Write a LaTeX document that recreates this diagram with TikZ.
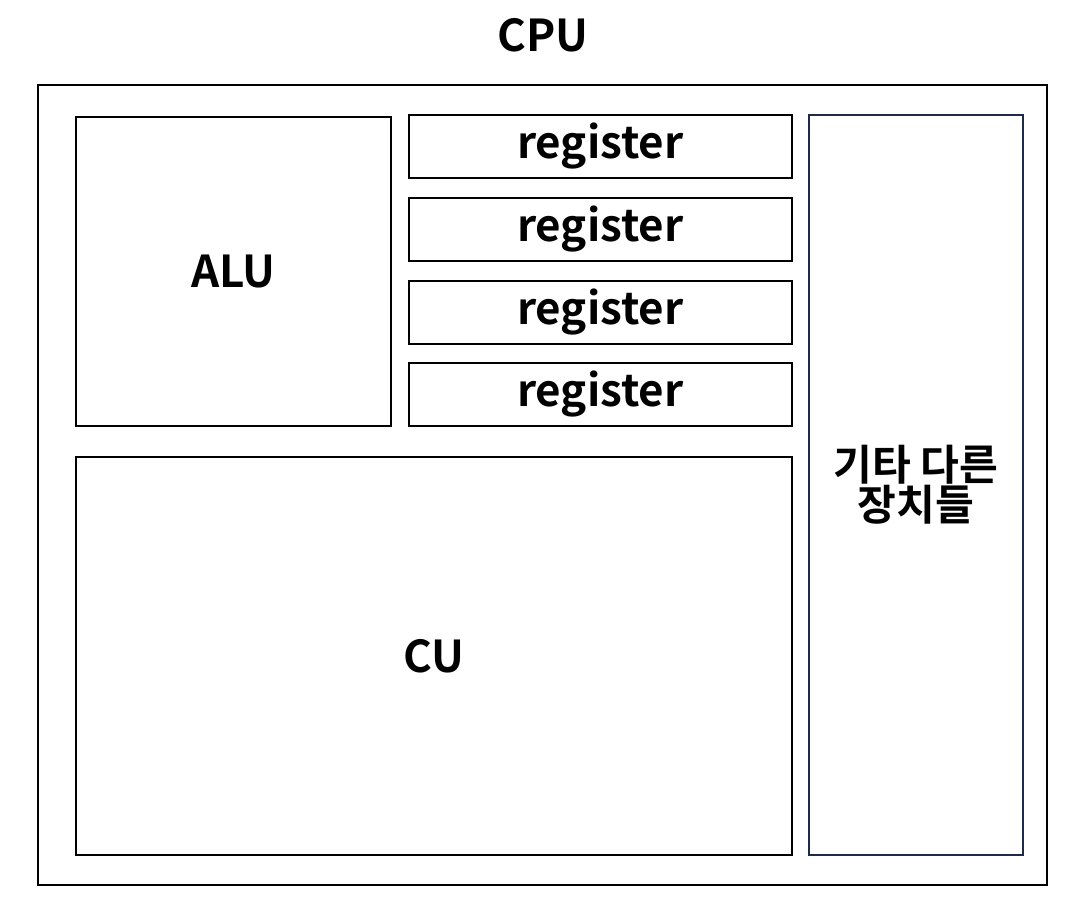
\documentclass[tikz,border=0pt]{standalone}
\usepackage{fontspec}
\setmainfont{Noto Sans CJK KR}[BoldFont={* Bold}]
\usepackage{tikz}
\usetikzlibrary{positioning}
\tikzstyle{part} = [rectangle, draw=black, line width=1.1pt, inner sep=0pt,
font=\bfseries\fontsize{25}{27}\selectfont]
\tikzstyle{reg} = [part, minimum width=7.66cm, minimum height=1.26cm]
\begin{document}
\begin{tikzpicture}[x=0.02cm, y=-0.02cm]
            \useasboundingbox (0,0) rectangle (1088,908);
            \node (cpulabel) [font=\bfseries\fontsize{25}{27}\selectfont] at (543,35) {CPU};
            \draw [line width=1.1pt] (38,85) rectangle (1047,885);
            \node (alu) [part, minimum width=6.3cm, minimum height=6.18cm, anchor=north west] at (75,116) {ALU};
            \node (reg1) [reg, anchor=north west] at (408,114) {register};
            \node (reg2) [reg, anchor=north west] at (408,197) {register};
            \node (reg3) [reg, anchor=north west] at (408,280) {register};
            \node (reg4) [reg, anchor=north west] at (408,362) {register};
            \node (cu) [part, minimum width=14.32cm, minimum height=7.96cm, anchor=north west] at (75,456) {CU};
            \node (etc) [part, draw={rgb,255:red,30;green,42;blue,74}, minimum width=4.28cm, minimum height=14.8cm,
            anchor=north west, align=center, font=\bfseries\fontsize{24}{23}\selectfont] at (808,114) {기타 다른\\장치들};
        \end{tikzpicture}
\end{document}
